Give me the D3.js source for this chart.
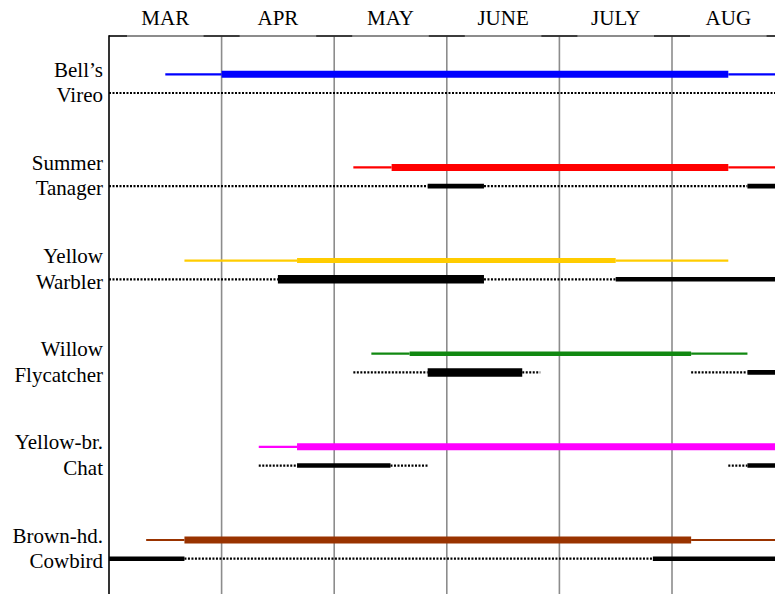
<!DOCTYPE html>
<html><head><meta charset="utf-8">
<script src="https://cdn.jsdelivr.net/npm/d3@7/dist/d3.min.js"></script>
<style>body{margin:0;background:#fff}svg{display:block}</style>
</head><body><svg id="c" width="775" height="594"></svg>
<script>
// Months (value 3 = 1 March, 4 = 1 April, ...)
const months = ["MAR","APR","MAY","JUNE","JULY","AUG"];
const monthStart = [3,4,5,6,7,8];
const species = ["Bell’s Vireo","Summer Tanager","Yellow Warbler","Willow Flycatcher","Yellow-br. Chat","Brown-hd. Cowbird"];
const labelLines = [["Bell’s","Vireo"],["Summer","Tanager"],["Yellow","Warbler"],["Willow","Flycatcher"],["Yellow-br.","Chat"],["Brown-hd.","Cowbird"]];
const colors = ["#0000ff","#ff0000","#ffcc00","#118811","#ff00ff","#993300"];
// presence periods [start, end, level]
const presence = [
  [[3.5,4.0,"low"],[4.0,8.5,"high"],[8.5,9.0,"low"]],
  [[5.17,5.51,"low"],[5.51,8.5,"high"],[8.5,9.0,"low"]],
  [[3.67,4.67,"low"],[4.67,7.5,"high"],[7.5,8.5,"low"]],
  [[5.33,5.67,"low"],[5.67,8.17,"high"],[8.17,8.67,"low"]],
  [[4.33,4.67,"low"],[4.67,9.0,"high"]],
  [[3.33,3.67,"low"],[3.67,8.17,"high"],[8.17,9.0,"low"]]
];
const presenceWidth = [7,7,5,4.5,7,7];
// singing / breeding periods [start, end, level]
const activity = [
  [[3.0,9.0,"none"]],
  [[3.0,5.83,"none"],[5.83,6.33,"mid"],[6.33,8.67,"none"],[8.67,9.0,"mid"]],
  [[3.0,4.5,"none"],[4.5,6.33,"high"],[6.33,7.5,"none"],[7.5,9.0,"mid"]],
  [[5.17,5.83,"none"],[5.83,6.67,"high"],[6.67,6.83,"none"],[8.17,8.67,"none"],[8.67,9.0,"mid"]],
  [[4.33,4.67,"none"],[4.67,5.5,"mid"],[5.5,5.83,"none"],[8.5,8.67,"none"],[8.67,9.0,"mid"]],
  [[3.0,3.67,"mid"],[3.67,7.83,"none"],[7.83,9.0,"mid"]]
];

const svg = d3.select("#c");
const x = d3.scaleLinear().domain([3,9]).range([109,784.6]);
const y = d3.scalePoint().domain(species).range([74.3,540]);
const off = 18.7;
const font = "'Liberation Serif','Times New Roman',serif";

// gridlines
svg.append("g").selectAll("line").data(monthStart.slice(1)).join("line")
  .attr("x1",d=>x(d)).attr("x2",d=>x(d)).attr("y1",36).attr("y2",594)
  .attr("stroke","#8c8c8c").attr("stroke-width",1.6);
// top border
svg.append("line").attr("x1",109).attr("x2",775).attr("y1",36).attr("y2",36)
  .attr("stroke","#666").attr("stroke-width",1.6);
svg.append("g").selectAll("line").data(monthStart.concat([9])).join("line")
  .attr("x1",d=>Math.max(109,x(d)-18)).attr("x2",d=>x(d)+18).attr("y1",36).attr("y2",36)
  .attr("stroke","#222").attr("stroke-width",1.6);
// left axis
svg.append("line").attr("x1",109).attr("x2",109).attr("y1",35.2).attr("y2",594)
  .attr("stroke","#000").attr("stroke-width",1.6);

// month labels
svg.append("g").selectAll("text").data(months).join("text")
  .attr("x",(d,i)=>x(monthStart[i]+0.5)).attr("y",25)
  .attr("text-anchor","middle").attr("font-family",font).attr("font-size",21)
  .text(d=>d);

// species labels
species.forEach((s,i)=>{
  const g = svg.append("text").attr("font-family",font).attr("font-size",21).attr("text-anchor","end");
  g.append("tspan").attr("x",103).attr("y",y(s)+2.5).text(labelLines[i][0]);
  g.append("tspan").attr("x",103).attr("y",y(s)+28).text(labelLines[i][1]);
});

const clip = svg.append("g");
// activity (black) lines
species.forEach((s,i)=>{
  clip.append("g").selectAll("line").data(activity[i]).join("line")
    .attr("x1",d=>x(d[0])).attr("x2",d=>x(d[1]))
    .attr("y1",y(s)+off).attr("y2",y(s)+off)
    .attr("stroke","#000")
    .attr("stroke-width",d=>d[2]==="high"?8.5:d[2]==="mid"?4.6:2.2)
    .attr("stroke-dasharray",d=>d[2]==="none"?"2,1.5":null);
});
// presence (colored) lines
species.forEach((s,i)=>{
  clip.append("g").selectAll("line").data(presence[i]).join("line")
    .attr("x1",d=>x(d[0])).attr("x2",d=>x(d[1]))
    .attr("y1",y(s)).attr("y2",y(s))
    .attr("stroke",colors[i])
    .attr("stroke-width",d=>d[2]==="high"?presenceWidth[i]:2.2);
});
</script></body></html>
